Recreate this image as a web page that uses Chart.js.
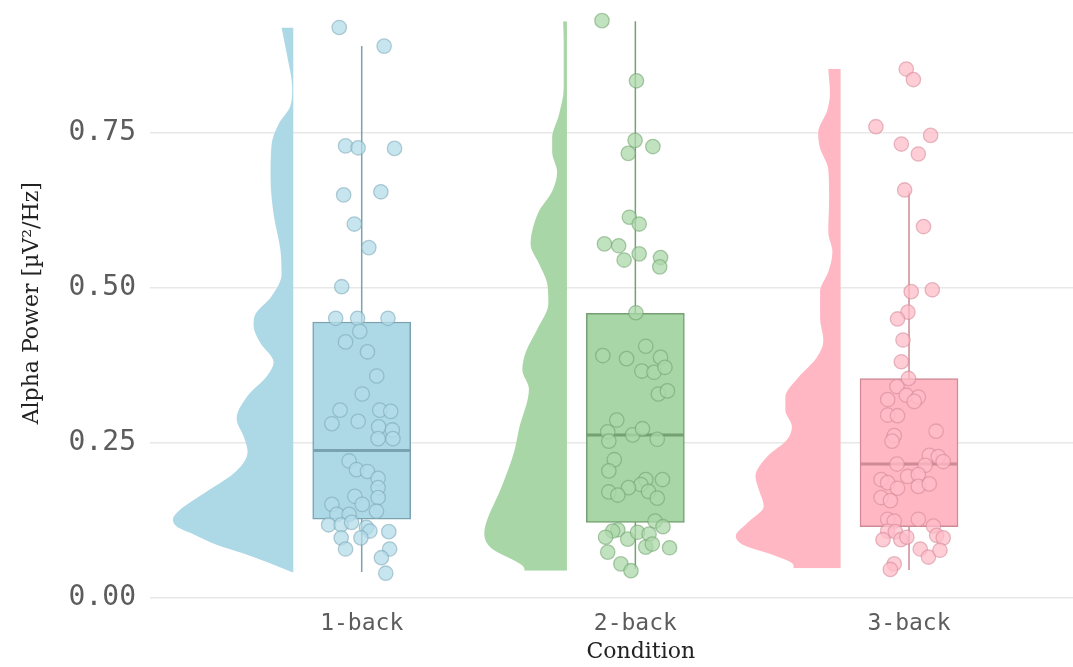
<!DOCTYPE html>
<html>
<head>
<meta charset="utf-8">
<title>Alpha power by condition</title>
<script src="https://cdn.jsdelivr.net/npm/chart.js@4.4.1/dist/chart.umd.min.js"></script>
<style>
  html, body { margin: 0; padding: 0; background: #ffffff; overflow: hidden; }
  #wrap { position: absolute; left: 0; top: 0; width: 1140px; height: 667px; }
</style>
</head>
<body>
<div id="wrap"><canvas id="chart" width="1140" height="667"></canvas></div>
<script>
// ---- data -------------------------------------------------------------
const categories = ['1-back', '2-back', '3-back'];
const yTickValues = [0, 0.25, 0.5, 0.75];

// box summaries per condition
const whiskerLow  = [0.042, 0.047, 0.045];
const quartile1   = [0.127, 0.122, 0.115];
const medians     = [0.238, 0.263, 0.216];
const quartile3   = [0.445, 0.459, 0.354];
const whiskerHigh = [0.890, 0.930, 0.656];

// individual observations (value) and their horizontal jitter (category units)
const oneBackValues = [0.920, 0.890, 0.729, 0.726, 0.725, 0.650, 0.655, 0.603, 0.565, 0.502,
  0.451, 0.451, 0.451, 0.430, 0.413, 0.397, 0.358, 0.329, 0.303, 0.303, 0.301, 0.281, 0.285,
  0.276, 0.271, 0.257, 0.257, 0.221, 0.207, 0.204, 0.193, 0.178, 0.164, 0.162, 0.151, 0.151,
  0.135, 0.135, 0.140, 0.118, 0.118, 0.122, 0.114, 0.108, 0.107, 0.097, 0.097, 0.079, 0.079,
  0.065, 0.040];
const oneBackJitter = [-0.082, 0.082, -0.059, -0.013, 0.120, -0.066, 0.070, -0.027, 0.026, -0.073,
  -0.095, -0.015, 0.096, -0.007, -0.059, 0.021, 0.055, 0.002, -0.079, 0.066, 0.106, -0.109, -0.013,
  0.062, 0.112, 0.060, 0.114, -0.046, -0.019, 0.021, 0.060, 0.060, -0.025, 0.060, -0.109, 0.002,
  -0.091, -0.046, 0.054, -0.121, -0.075, -0.037, 0.017, 0.030, 0.099, -0.075, -0.003, -0.059, 0.102,
  0.072, 0.088];

const twoBackValues = [0.931, 0.834, 0.738, 0.728, 0.717, 0.614, 0.603, 0.571, 0.568, 0.555,
  0.545, 0.549, 0.534, 0.460, 0.391, 0.406, 0.386, 0.388, 0.366, 0.364, 0.372, 0.329, 0.334,
  0.287, 0.268, 0.263, 0.273, 0.256, 0.253, 0.223, 0.205, 0.191, 0.191, 0.183, 0.178, 0.171,
  0.166, 0.172, 0.161, 0.124, 0.115, 0.110, 0.108, 0.098, 0.095, 0.106, 0.103, 0.082, 0.087,
  0.081, 0.074, 0.055, 0.044];
const twoBackJitter = [-0.122, 0.004, -0.001, 0.064, -0.026, -0.022, 0.014, -0.113, -0.061, 0.014,
  -0.041, 0.092, 0.089, 0.002, -0.119, 0.038, -0.032, 0.092, 0.024, 0.068, 0.108, 0.084, 0.117,
  -0.068, -0.101, -0.010, 0.026, 0.080, -0.097, -0.077, -0.097, 0.099, 0.038, 0.020, -0.025, -0.097,
  -0.064, 0.048, 0.080, 0.072, 0.101, -0.064, -0.083, -0.109, -0.028, 0.008, 0.050, 0.038, 0.062,
  0.125, -0.101, -0.053, -0.016];

const threeBackValues = [0.853, 0.836, 0.760, 0.746, 0.732, 0.716, 0.658, 0.599, 0.494, 0.497,
  0.461, 0.450, 0.416, 0.381, 0.354, 0.341, 0.320, 0.327, 0.324, 0.317, 0.295, 0.294, 0.269,
  0.262, 0.253, 0.230, 0.228, 0.220, 0.216, 0.214, 0.191, 0.196, 0.199, 0.186, 0.177, 0.180,
  0.184, 0.162, 0.157, 0.127, 0.124, 0.127, 0.108, 0.107, 0.116, 0.101, 0.097, 0.094, 0.094,
  0.098, 0.079, 0.066, 0.077, 0.055, 0.046];
const threeBackJitter = [-0.010, 0.016, -0.121, 0.079, -0.028, 0.034, -0.016, 0.053, 0.008, 0.085,
  -0.004, -0.042, -0.022, -0.028, -0.002, -0.044, -0.078, -0.010, 0.034, 0.019, -0.078, -0.042, 0.099,
  -0.054, -0.062, 0.074, 0.107, 0.125, -0.044, 0.059, -0.102, -0.005, 0.034, -0.078, -0.042, 0.034,
  0.074, -0.102, -0.068, -0.078, -0.054, 0.034, -0.078, -0.050, 0.089, 0.101, 0.125, -0.095, -0.030,
  -0.008, 0.041, 0.071, 0.113, -0.054, -0.068];

// half-violin density outlines: value levels (bottom to top) and half widths (category units)
const oneBackDensityLevels = [0.041, 0.057, 0.072, 0.086, 0.103, 0.115, 0.127, 0.140, 0.150, 0.174,
  0.204, 0.236, 0.260, 0.289, 0.324, 0.359, 0.380, 0.411, 0.440, 0.455, 0.486, 0.522, 0.561, 0.619,
  0.678, 0.729, 0.764, 0.793, 0.821, 0.880, 0.920];
const oneBackDensityWidths = [0.000, 0.090, 0.184, 0.280, 0.365, 0.425, 0.440, 0.420, 0.391, 0.308,
  0.210, 0.167, 0.181, 0.207, 0.170, 0.094, 0.072, 0.120, 0.145, 0.141, 0.080, 0.043, 0.047, 0.072,
  0.083, 0.080, 0.054, 0.011, 0.004, 0.025, 0.043];

const twoBackDensityLevels = [0.044, 0.049, 0.081, 0.104, 0.120, 0.177, 0.236, 0.273, 0.337, 0.368,
  0.396, 0.433, 0.475, 0.507, 0.539, 0.571, 0.592, 0.624, 0.656, 0.687, 0.719, 0.742, 0.778, 0.821,
  0.901, 0.930];
const twoBackDensityWidths = [0.155, 0.157, 0.278, 0.302, 0.296, 0.241, 0.193, 0.175, 0.139, 0.163,
  0.151, 0.109, 0.068, 0.072, 0.102, 0.133, 0.127, 0.102, 0.054, 0.036, 0.054, 0.054, 0.030, 0.012,
  0.012, 0.014];

const threeBackDensityLevels = [0.048, 0.053, 0.069, 0.085, 0.100, 0.121, 0.148, 0.175, 0.196, 0.228,
  0.255, 0.276, 0.303, 0.324, 0.356, 0.388, 0.415, 0.451, 0.494, 0.526, 0.558, 0.590, 0.643, 0.691,
  0.727, 0.750, 0.786, 0.813, 0.853];
const threeBackDensityWidths = [0.172, 0.172, 0.244, 0.353, 0.383, 0.341, 0.281, 0.299, 0.311, 0.268,
  0.196, 0.178, 0.202, 0.202, 0.154, 0.087, 0.063, 0.075, 0.075, 0.045, 0.030, 0.045, 0.042, 0.045,
  0.076, 0.082, 0.049, 0.039, 0.045];

// ---- layout & styling ---------------------------------------------------
const yMax = 0.9506;
const xMin = 0.2264, xMax = 3.813;
const violinOffset = 0.25;   // flat side of each half violin, left of the box
const boxHalfWidth = 0.177;

const colours = {
  fill:      ['rgb(173,216,230)', 'rgb(168,214,166)', 'rgb(255,183,195)'],
  edge:      ['rgb(122,162,176)', 'rgb(116,160,114)', 'rgb(206,138,150)'],
  pointFill: ['rgba(180,220,234,0.75)', 'rgba(172,216,170,0.75)', 'rgba(255,188,200,0.75)'],
  pointEdge: ['rgba(120,165,180,0.55)', 'rgba(110,160,108,0.55)', 'rgba(210,135,150,0.55)']
};

const series = [
  { values: oneBackValues,   jitter: oneBackJitter,   levels: oneBackDensityLevels,   widths: oneBackDensityWidths },
  { values: twoBackValues,   jitter: twoBackJitter,   levels: twoBackDensityLevels,   widths: twoBackDensityWidths },
  { values: threeBackValues, jitter: threeBackJitter, levels: threeBackDensityLevels, widths: threeBackDensityWidths }
];

const datasets = [];
categories.forEach((name, i) => {
  const centre = i + 1;
  const edge = centre - violinOffset;
  const s = series[i];
  datasets.push({
    type: 'scatter', label: name,
    data: s.values.map((v, j) => ({ x: centre + s.jitter[j], y: v })),
    backgroundColor: colours.pointFill[i], borderColor: colours.pointEdge[i],
    borderWidth: 1.3, pointRadius: 7.2, pointHoverRadius: 7.2, clip: false, order: 0
  });
  datasets.push({
    type: 'line', label: name + ' median',
    data: [{ x: centre - boxHalfWidth, y: medians[i] }, { x: centre + boxHalfWidth, y: medians[i] }],
    borderColor: colours.edge[i], borderWidth: 3, pointRadius: 0, fill: false, order: 1
  });
  datasets.push({
    type: 'line', label: name + ' whisker',
    data: [{ x: centre, y: whiskerLow[i] }, { x: centre, y: whiskerHigh[i] }],
    borderColor: colours.edge[i], borderWidth: 1.5, pointRadius: 0, fill: false, order: 3
  });
  // half violin: density outline running up the value axis, filled across to its flat side
  datasets.push({
    type: 'line', label: name + ' density', indexAxis: 'y',
    data: s.levels.map((v, j) => ({ x: edge - s.widths[j], y: v })),
    backgroundColor: colours.fill[i], borderColor: colours.fill[i], borderWidth: 0,
    pointRadius: 0, cubicInterpolationMode: 'monotone',
    fill: { value: edge }, order: 4
  });
});
datasets.push({
  type: 'bar', label: 'interquartile range',
  data: categories.map((_, i) => ({ x: i + 1, y: [quartile1[i], quartile3[i]] })),
  backgroundColor: colours.fill, borderColor: colours.edge, borderWidth: 1.5,
  borderSkipped: false, barThickness: 98, order: 2
});

new Chart(document.getElementById('chart'), {
  type: 'scatter',
  data: { datasets },
  options: {
    responsive: false,
    animation: false,
    events: [],
    devicePixelRatio: 1,
    layout: { padding: { top: 2, left: 0, right: 0, bottom: 0 } },
    plugins: { legend: { display: false }, tooltip: { enabled: false } },
    scales: {
      x: {
        type: 'linear', min: xMin, max: xMax, offset: false,
        afterBuildTicks: s => { s.ticks = categories.map((_, i) => ({ value: i + 1 })); },
        afterFit: s => { s.height = 69; s.paddingLeft = 0; s.paddingRight = 0; },
        ticks: {
          callback: v => categories[Math.round(v) - 1],
          font: { family: 'DejaVu Sans Mono', size: 23 }, color: '#5c5c5c',
          padding: 12, maxRotation: 0, autoSkip: false
        },
        grid: { display: false, drawTicks: false, offset: false },
        border: { display: false },
        title: {
          display: true, text: 'Condition',
          font: { family: 'DejaVu Serif', size: 22 }, color: '#222222',
          padding: { top: 0, bottom: 2 }
        }
      },
      y: {
        type: 'linear', min: 0, max: yMax,
        afterBuildTicks: s => { s.ticks = yTickValues.map(v => ({ value: v })); },
        afterFit: s => { s.width = 150; s.paddingTop = 0; s.paddingBottom = 0; },
        ticks: {
          callback: v => Number(v).toFixed(2),
          font: { family: 'DejaVu Sans Mono', size: 28 }, color: '#5c5c5c',
          padding: 14
        },
        grid: { color: '#e8e8e8', lineWidth: 1.6, drawTicks: false },
        border: { display: false },
        title: {
          display: true, text: 'Alpha Power [µV²/Hz]',
          font: { family: 'DejaVu Serif', size: 22 }, color: '#222222',
          padding: { top: 19, bottom: 0 }
        }
      }
    }
  }
});
</script>
</body>
</html>
